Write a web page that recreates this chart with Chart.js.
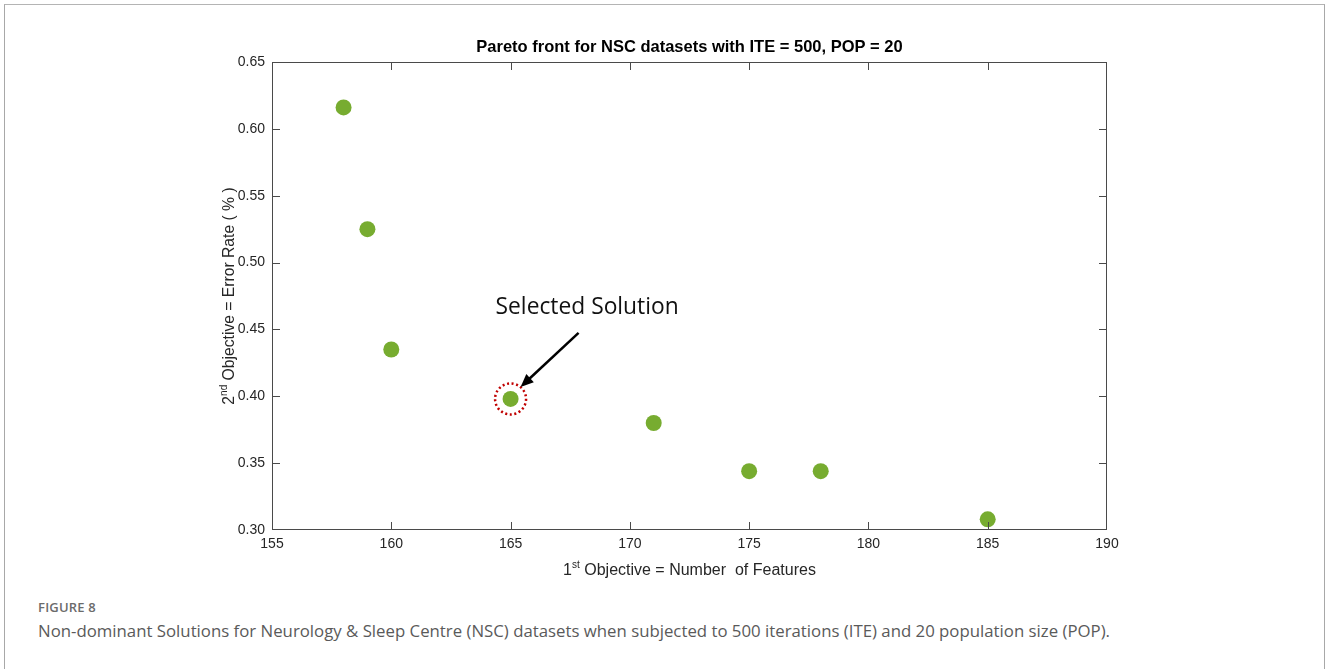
<!DOCTYPE html>
<html>
<head>
<meta charset="utf-8">
<script src="https://cdn.jsdelivr.net/npm/chart.js@4/dist/chart.umd.min.js"></script>
<style>
  html, body { margin: 0; padding: 0; background: #fff; }
  body { width: 1328px; height: 669px; position: relative; overflow: hidden; }
  #frame {
    position: absolute; left: 4px; top: 4px; width: 1319px; height: 700px;
    border-left: 1px solid #a8a8a8; border-top: 1px solid #b4b4b4; border-right: 1px solid #a8a8a8;
  }
  #chart { position: absolute; left: 0; top: 0; }
  .fig-label {
    position: absolute; left: 38px; top: 598px; font-family: "Open Sans", "Noto Sans", sans-serif;
    font-size: 13px; font-weight: 600; color: #6b6b6b; letter-spacing: 0.2px;
  }
  .fig-caption {
    position: absolute; left: 38px; top: 619px; font-family: "Open Sans", "Noto Sans", sans-serif;
    font-size: 16.8px; font-weight: 400; color: #5a5a5a; white-space: nowrap;
  }
</style>
</head>
<body>
<div id="frame"></div>
<canvas id="chart" width="1328" height="590"></canvas>
<div class="fig-label">FIGURE 8</div>
<div class="fig-caption">Non-dominant Solutions for Neurology &amp; Sleep Centre (NSC) datasets when subjected to 500 iterations (ITE) and 20 population size (POP).</div>

<script>
// Pareto front: number of features vs. error rate
const numFeatures = [158, 159, 160, 165, 171, 175, 178, 185];
const errorRate   = [0.616, 0.525, 0.435, 0.398, 0.380, 0.344, 0.344, 0.308];
const selectedIndex = 3;

const xTicks = [155, 160, 165, 170, 175, 180, 185, 190];
const yTicks = [0.30, 0.35, 0.40, 0.45, 0.50, 0.55, 0.60, 0.65];

const chartTitle = 'Pareto front for NSC datasets with ITE = 500, POP = 20';
const xTitle = ['1', 'st', ' Objective = Number  of Features'];
const yTitle = ['2', 'nd', ' Objective = Error Rate ( % )'];
const annotationText = 'Selected Solution';

const points = numFeatures.map((x, i) => ({ x, y: errorRate[i] }));

const AXIS_COLOR = '#262626';
const LABEL_FONT = '"Liberation Sans", Arial, Helvetica, sans-serif';

// draws "base" + superscript + rest, centred at the current origin
function drawSupText(ctx, parts, size, family) {
  const [base, sup, rest] = parts;
  ctx.font = `${size}px ${family}`;
  const wBase = ctx.measureText(base).width;
  const wRest = ctx.measureText(rest).width;
  ctx.font = `${Math.round(size * 0.62)}px ${family}`;
  const wSup = ctx.measureText(sup).width;
  const total = wBase + wSup + wRest;
  let x = -total / 2;
  ctx.textBaseline = 'alphabetic';
  ctx.textAlign = 'left';
  ctx.font = `${size}px ${family}`;
  ctx.fillText(base, x, size * 0.36);
  x += wBase;
  ctx.font = `${Math.round(size * 0.62)}px ${family}`;
  ctx.fillText(sup, x, size * 0.36 - size * 0.42);
  x += wSup;
  ctx.font = `${size}px ${family}`;
  ctx.fillText(rest, x, size * 0.36);
}

const decorations = {
  id: 'decorations',
  afterDatasetsDraw(chart) {
    const { ctx, chartArea: a, scales: { x, y } } = chart;
    ctx.save();

    // axes box with inward ticks on all sides
    ctx.strokeStyle = '#4a4a4a';
    ctx.lineWidth = 1;
    ctx.strokeRect(a.left + 0.5, a.top + 0.5, a.right - a.left - 1, a.bottom - a.top - 1);
    const tl = 8;
    ctx.beginPath();
    xTicks.slice(1, -1).forEach(v => {
      const px = Math.round(x.getPixelForValue(v)) + 0.5;
      ctx.moveTo(px, a.bottom); ctx.lineTo(px, a.bottom - tl);
      ctx.moveTo(px, a.top); ctx.lineTo(px, a.top + tl);
    });
    yTicks.slice(1, -1).forEach(v => {
      const py = Math.round(y.getPixelForValue(v)) + 0.5;
      ctx.moveTo(a.left, py); ctx.lineTo(a.left + tl, py);
      ctx.moveTo(a.right, py); ctx.lineTo(a.right - tl, py);
    });
    ctx.stroke();

    // title
    const cx = (a.left + a.right) / 2;
    ctx.fillStyle = '#000';
    ctx.font = `bold 16.5px ${LABEL_FONT}`;
    ctx.textAlign = 'center';
    ctx.textBaseline = 'middle';
    ctx.fillText(chartTitle, cx, a.top - 15);

    // x axis title
    ctx.fillStyle = AXIS_COLOR;
    ctx.save();
    ctx.translate(cx, a.bottom + 39);
    drawSupText(ctx, xTitle, 16, '"Liberation Sans Narrow", "Arial Narrow", sans-serif');
    ctx.restore();

    // y axis title
    ctx.save();
    ctx.translate(a.left - 44, (a.top + a.bottom) / 2);
    ctx.rotate(-Math.PI / 2);
    drawSupText(ctx, yTitle, 15.7, LABEL_FONT);
    ctx.restore();

    // highlight of the selected solution
    const sx = x.getPixelForValue(numFeatures[selectedIndex]);
    const sy = y.getPixelForValue(errorRate[selectedIndex]);
    ctx.strokeStyle = '#c00000';
    ctx.lineWidth = 2.5;
    ctx.setLineDash([2, 2.6]);
    ctx.beginPath();
    ctx.arc(sx, sy, 15.5, 0, Math.PI * 2);
    ctx.stroke();
    ctx.setLineDash([]);

    // arrow pointing at it
    const tipX = sx + 10, tipY = sy - 12;
    const tailX = sx + 68, tailY = sy - 66;
    const ang = Math.atan2(tipY - tailY, tipX - tailX);
    ctx.strokeStyle = '#000';
    ctx.fillStyle = '#000';
    ctx.lineWidth = 2.5;
    ctx.beginPath();
    ctx.moveTo(tailX, tailY);
    ctx.lineTo(tipX - 8 * Math.cos(ang), tipY - 8 * Math.sin(ang));
    ctx.stroke();
    ctx.beginPath();
    ctx.moveTo(tipX, tipY);
    ctx.lineTo(tipX - 13 * Math.cos(ang) + 5.5 * Math.sin(ang), tipY - 13 * Math.sin(ang) - 5.5 * Math.cos(ang));
    ctx.lineTo(tipX - 13 * Math.cos(ang) - 5.5 * Math.sin(ang), tipY - 13 * Math.sin(ang) + 5.5 * Math.cos(ang));
    ctx.closePath();
    ctx.fill();

    ctx.font = '22.8px "Open Sans", "Noto Sans", sans-serif';
    ctx.textAlign = 'left';
    ctx.textBaseline = 'middle';
    ctx.fillStyle = '#111';
    ctx.fillText(annotationText, sx - 15, sy - 91);

    ctx.restore();
  }
};

new Chart(document.getElementById('chart'), {
  type: 'scatter',
  data: {
    datasets: [{
      data: points,
      backgroundColor: '#77ac30',
      borderColor: '#77ac30',
      borderWidth: 0,
      pointRadius: 8,
      pointHoverRadius: 8
    }]
  },
  options: {
    responsive: false,
    animation: false,
    events: [],
    layout: { padding: { top: 62, right: 221, left: 0, bottom: 0 } },
    plugins: { legend: { display: false }, title: { display: false }, tooltip: { enabled: false } },
    scales: {
      x: {
        type: 'linear', min: 155, max: 190,
        afterFit: s => { s.height = 60; },
        afterBuildTicks: s => { s.ticks = xTicks.map(v => ({ value: v })); },
        grid: { display: false, drawTicks: false, tickLength: 0 },
        border: { display: false },
        ticks: { color: AXIS_COLOR, padding: 6, maxRotation: 0, font: { family: LABEL_FONT, size: 14 },
                 callback: v => String(v) }
      },
      y: {
        type: 'linear', min: 0.30, max: 0.65,
        afterFit: s => { s.width = 272; },
        afterBuildTicks: s => { s.ticks = yTicks.map(v => ({ value: v })); },
        grid: { display: false, drawTicks: false, tickLength: 0 },
        border: { display: false },
        ticks: { color: AXIS_COLOR, padding: 7, font: { family: LABEL_FONT, size: 14 },
                 callback: v => Number(v).toFixed(2) }
      }
    }
  },
  plugins: [decorations]
});
</script>
</body>
</html>
